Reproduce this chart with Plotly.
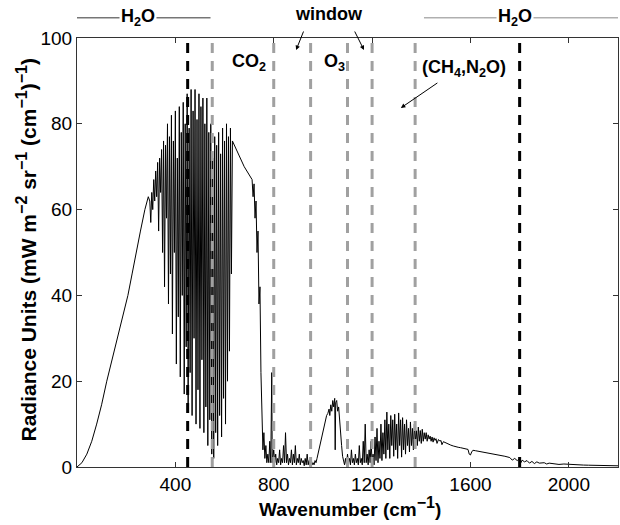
"""Clear-sky infrared radiance spectrum with absorption band markers."""

import plotly.graph_objects as go

# ---- spectrum (wavenumber cm^-1, radiance) ----

# smooth rise on the far-infrared side
rise_wn = [0, 20, 40, 60, 80, 100, 121, 143, 165, 186, 207, 224, 240, 258, 276, 290]
rise_rad = [0, 1, 3, 6, 10, 14.5, 20, 25, 30, 35, 40, 45, 50, 55, 60, 63]

# dense water-vapour rotation lines
h2o_wn = [296, 300, 304, 308, 312, 316, 320, 324, 328, 332, 336, 340, 344, 348,
          352, 356, 360, 364, 368, 372, 376, 380, 384, 388, 392, 396, 400, 404,
          408, 412, 416, 420, 424, 428, 432, 436, 440, 444, 448, 452, 456, 460,
          464, 468, 472, 476, 480, 484, 488, 492, 496, 500, 504, 508, 512, 516,
          520, 524, 528, 532, 536, 540, 544, 548, 552, 556, 560, 564, 568, 572,
          576, 580, 584, 588, 592, 596, 600, 604, 608, 612, 616, 620, 624, 628]
h2o_rad = [62, 57, 64, 60, 67, 62, 69, 63, 71, 55, 72, 64, 74, 50,
           76, 42, 75, 58, 80, 38, 77, 45, 82, 31, 76, 50, 83, 24,
           72, 35, 84, 21, 78, 40, 85, 17, 80, 28, 87, 14, 79, 22,
           88, 12, 83, 30, 88, 10, 81, 18, 87, 9, 84, 25, 86, 8,
           80, 14, 86, 5, 78, 11, 80, 3, 72, 2, 77, 8, 75, 5,
           78, 12, 73, 7, 79, 16, 76, 10, 80, 20, 77, 27, 79, 45]

# CO2 band edge
co2_wn = [632, 645, 660, 680, 700, 712, 716, 720, 724, 728, 732, 736, 740, 744,
          748, 752, 756, 760, 764, 768, 772, 776, 780, 784, 788, 792, 794, 800]
co2_rad = [76, 74.5, 72.5, 70, 68, 67, 63, 66, 58, 62, 50, 55, 38, 42,
           22, 15, 4, 8, 2, 5, 1, 3, 1, 6, 1, 22, 1, 4]

# atmospheric window
win_wn = [804, 808, 812, 816, 820, 824, 828, 832, 836, 840, 844, 848, 852, 856,
          860, 864, 868, 872, 876, 880, 884, 888, 892, 896, 900, 904, 908, 912,
          916, 920, 924, 928, 932, 936, 940, 944, 948, 952, 956, 960, 964, 968,
          972, 976]
win_rad = [1, 3, 0.5, 2, 1, 4, 0.5, 2, 1, 5, 1, 8, 1, 3,
           0.5, 2, 1, 4, 0.5, 3, 1, 5, 0.5, 2, 1, 3, 0.5, 2,
           1, 1.5, 0.3, 2, 0.5, 3, 0.5, 1.5, 0.3, 2, 0.5, 1, 0.5, 1.5,
           1, 2]

# ozone band
o3_wn = [980, 985, 990, 995, 1000, 1005, 1010, 1015, 1020, 1025, 1028, 1032,
         1036, 1040, 1044, 1048, 1050, 1052, 1056, 1060, 1064, 1068, 1072, 1076,
         1080, 1084, 1088]
o3_rad = [3, 4.5, 6, 7.5, 8.5, 10, 11, 12, 12.5, 13.5, 12, 14.5,
          13, 15.5, 14, 16, 4, 15, 15.5, 13, 14, 10, 7, 5,
          2.5, 1.5, 0.5]

# second window segment
win2_wn = [1092, 1096, 1100, 1104, 1108, 1112, 1116, 1120, 1124, 1128, 1132,
           1136, 1140, 1144, 1148, 1152, 1156, 1160, 1164, 1168, 1172, 1176,
           1180, 1184, 1188, 1192, 1196, 1200, 1204, 1208, 1212, 1216]
win2_rad = [2, 0.5, 3, 1, 2, 0.5, 4, 1, 2, 0.5, 3,
            1, 2, 0.5, 5, 1, 2, 0.5, 6, 1, 10, 1,
            3, 0.5, 4, 1, 6, 1, 3, 0.5, 7, 1.5]

# CH4 / N2O / water-vapour band
ch4_wn = [1220, 1224, 1228, 1232, 1236, 1240, 1244, 1248, 1252, 1256, 1260,
          1264, 1268, 1272, 1276, 1280, 1284, 1288, 1292, 1296, 1300, 1304,
          1308, 1312, 1316, 1320, 1324, 1328, 1332, 1336, 1340, 1344, 1348,
          1352, 1356, 1360, 1364, 1368, 1372, 1376, 1380, 1384, 1388, 1392,
          1396, 1400, 1404, 1408, 1412, 1416, 1420, 1424, 1428, 1432, 1436,
          1440, 1444, 1448, 1452, 1456, 1460, 1464, 1470, 1476, 1480, 1484,
          1490]
ch4_rad = [9, 1, 6, 2, 10, 1.5, 8, 3, 11, 2, 12.8,
           4, 10, 2, 12, 5, 11, 2.5, 12.3, 4, 10, 2,
           12.6, 5, 11, 2.3, 11.5, 4, 10, 3, 11, 5, 9,
           3.5, 10.5, 5, 9, 4, 10, 6, 8.5, 5, 9.3, 6,
           8.5, 5.5, 8.8, 6, 8, 6.5, 8, 6, 7.5, 6.5, 7.2,
           6, 7, 5.8, 6.8, 6.2, 6.6, 5.5, 6.4, 6.0, 6.2, 5.2,
           5.9]

# decaying tail
tail_wn = [1500, 1510, 1520, 1530, 1540, 1550, 1560, 1570, 1580, 1590, 1595,
           1600, 1605, 1610, 1620, 1640, 1660, 1680, 1700, 1720, 1740, 1760,
           1770, 1780, 1790, 1800, 1805, 1810, 1820, 1830, 1840, 1850, 1860,
           1870, 1880, 1900, 1910, 1920, 1940, 1960, 1980, 2000, 2020, 2040,
           2060, 2080, 2100, 2140, 2180, 2200]
tail_rad = [5.6, 5.3, 5.1, 4.9, 4.7, 4.6, 4.5, 4.4, 4.3, 4.1, 3.0,
            2.8, 3.5, 3.9, 3.8, 3.6, 3.3, 3.1, 2.9, 2.7, 2.5, 2.2,
            1.6, 2.0, 1.5, 1.9, 1.0, 1.6, 1.2, 1.5, 0.9, 1.3, 0.8,
            1.2, 0.9, 1.0, 0.7, 0.9, 0.8, 0.6, 0.7, 0.6, 0.55, 0.5,
            0.45, 0.42, 0.4, 0.35, 0.3, 0.28]

# band boundaries
black_marks = [450, 1800]
gray_marks = [550, 800, 950, 1100, 1200, 1375]

x_ticks = [400, 800, 1200, 1600, 2000]
y_ticks = [0, 20, 40, 60, 80, 100]

wn = rise_wn + h2o_wn + co2_wn + win_wn + o3_wn + win2_wn + ch4_wn + tail_wn
rad = rise_rad + h2o_rad + co2_rad + win_rad + o3_rad + win2_rad + ch4_rad + tail_rad

FONT = "Liberation Sans, Arial, Helvetica, sans-serif"

fig = go.Figure()
fig.add_trace(go.Scatter(x=wn, y=rad, mode="lines",
                         line=dict(color="black", width=1), showlegend=False))

for x0 in black_marks:
    fig.add_shape(type="line", x0=x0, x1=x0, y0=0, y1=100, xref="x", yref="y",
                  line=dict(color="black", width=3, dash="10px,8px"), layer="above")
for x0 in gray_marks:
    fig.add_shape(type="line", x0=x0, x1=x0, y0=0, y1=100, xref="x", yref="y",
                  line=dict(color="#a0a0a0", width=3, dash="10px,8px"), layer="above")

# H2O bars above the plot
for (xa, xb, col) in [(-8, 543, "#333333"), (1411, 2200, "#888888")]:
    fig.add_shape(type="line", x0=xa, x1=xb, y0=1.047, y1=1.047,
                  xref="x", yref="paper", line=dict(color=col, width=1))

bold = dict(family=FONT, size=18, color="black")
for xc in [247, 1780]:
    fig.add_annotation(x=xc, y=1.047, xref="x", yref="paper", text="<b>H<sub>2</sub>O</b>",
                       showarrow=False, bgcolor="white", font=bold, borderpad=1,
                       xanchor="center", yanchor="middle")

fig.add_annotation(x=1025, y=1.056, xref="x", yref="paper", text="<b>window</b>",
                   showarrow=False, font=bold, xanchor="center", yanchor="middle")
for (xh, ax) in [(891, 8), (1167, -10)]:
    fig.add_annotation(x=xh, y=97.2, xref="x", yref="y", text="", showarrow=True,
                       arrowhead=2, arrowsize=0.9, arrowwidth=1, arrowcolor="black",
                       ax=ax, ay=-20)

fig.add_annotation(x=701, y=94.2, text="<b>CO<sub>2</sub></b>", showarrow=False, font=bold,
                   xanchor="center", yanchor="middle")
fig.add_annotation(x=1046, y=94.2, text="<b>O<sub>3</sub></b>", showarrow=False, font=bold,
                   xanchor="center", yanchor="middle")
fig.add_annotation(x=1573, y=93, text="<b>(CH<sub>4</sub>,N<sub>2</sub>O)</b>",
                   showarrow=False, font=bold, xanchor="center", yanchor="middle")
fig.add_annotation(x=1317, y=83.7, text="", showarrow=True, arrowhead=2, arrowsize=0.9,
                   arrowwidth=1, arrowcolor="black", ax=38, ay=-26)

# axis titles as annotations so they sit where the reference has them
sup = '<sup><span style="font-size:16px">{}</span></sup>'
ytitle = ("<b>Radiance Units (mW m" + sup.format("−2") + " sr" + sup.format("−1")
          + " (cm" + sup.format("−1") + ")" + sup.format("−1") + ")</b>")
fig.add_annotation(x=-0.094, y=0.505, xref="paper", yref="paper", text=ytitle,
                   textangle=-90, showarrow=False, xanchor="center", yanchor="middle",
                   font=dict(family=FONT, size=21, color="black"))
fig.add_annotation(x=0.505, y=-0.093, xref="paper", yref="paper",
                   text="<b>Wavenumber (cm" + sup.format("−1") + ")</b>",
                   showarrow=False, xanchor="center", yanchor="middle",
                   font=dict(family=FONT, size=19, color="black"))

axis_common = dict(showline=True, linecolor="#333333", linewidth=1, mirror="ticks",
                   ticks="inside", ticklen=5, tickcolor="#333333", showgrid=False,
                   zeroline=False, automargin=False,
                   tickfont=dict(family=FONT, size=19, color="black"))

fig.update_layout(
    width=620, height=525,
    margin=dict(l=77, r=2, t=38, b=58),
    plot_bgcolor="white", paper_bgcolor="white",
    xaxis=dict(range=[0, 2200], tickvals=x_ticks, **axis_common),
    yaxis=dict(range=[0, 100], tickvals=y_ticks, **axis_common),
)

fig.write_html("out.html", config={"displayModeBar": False},
               post_script="document.body.style.margin='0px';")
